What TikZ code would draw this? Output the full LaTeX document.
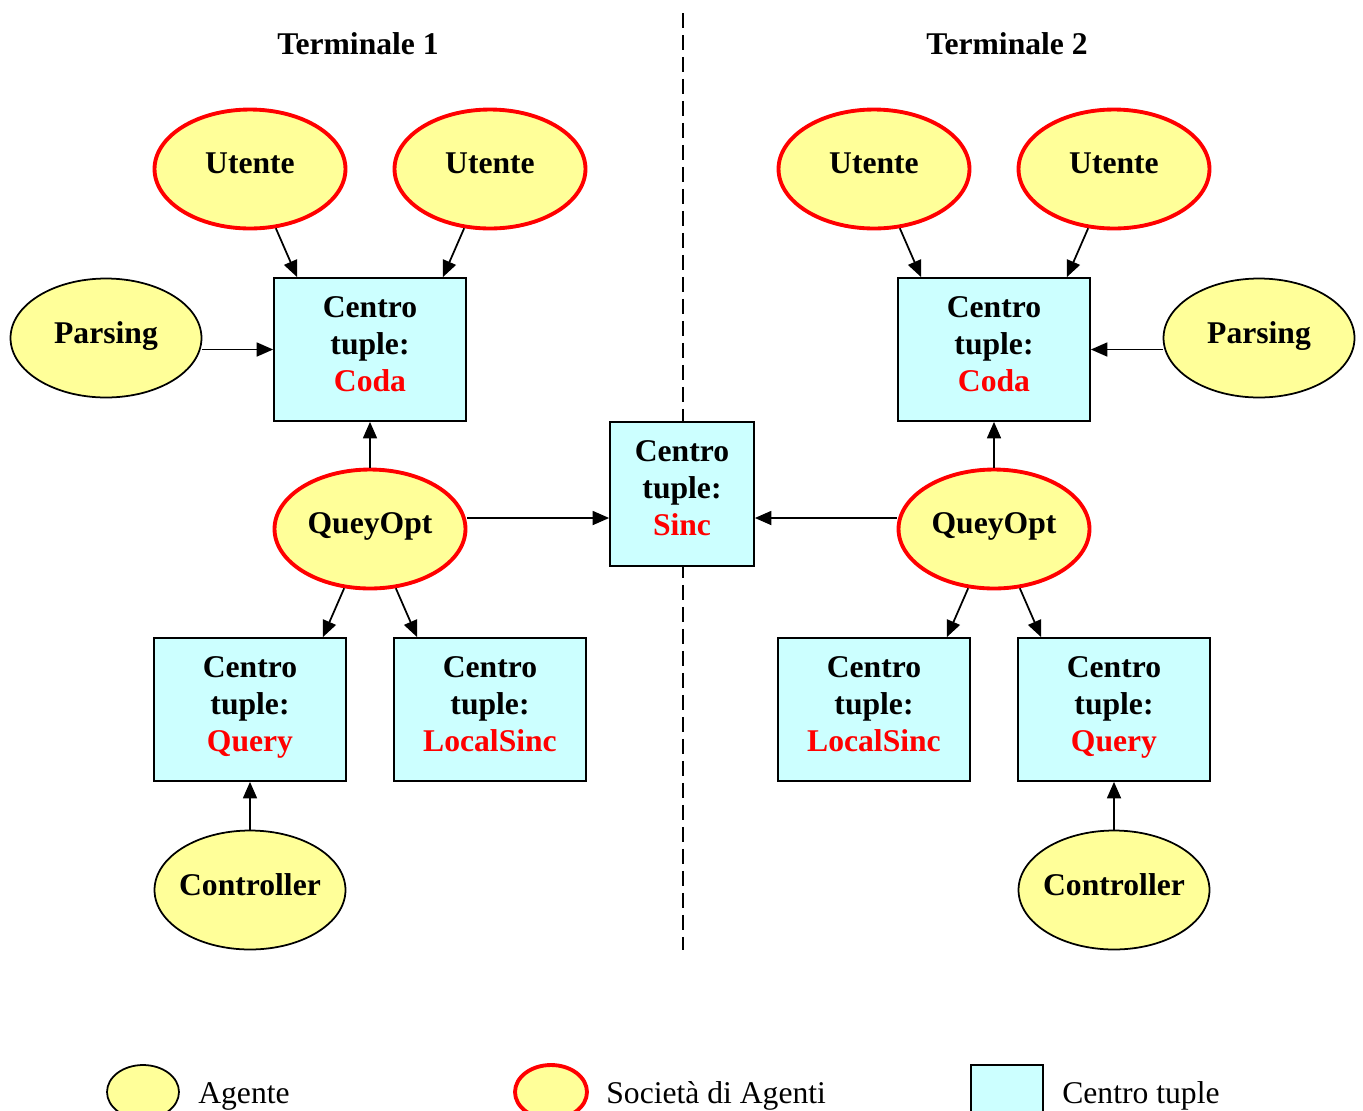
\documentclass[tikz,border=0pt]{standalone}
\usepackage{fontspec}
\setmainfont{Liberation Serif}
\definecolor{agentyellow}{RGB}{255, 255, 153}
\definecolor{tuplecyan}{RGB}{204, 255, 255}
\definecolor{socred}{RGB}{255, 0, 0}
\usetikzlibrary{shapes.geometric, arrows.meta, positioning, calc}
\newcommand{\centrotuple}[1]{Centro\\tuple:\\\textcolor{socred}{#1}\rule[-0.23cm]{0pt}{0pt}}

\begin{document}
\begin{tikzpicture}[x=0.02cm, y=-0.02cm,
  agent/.style={ellipse, draw, line width=1pt, fill=agentyellow, minimum width=3.82cm, minimum height=2.38cm, inner xsep=-0.1cm, inner ysep=0pt, text depth=0.22cm, font=\bfseries\fontsize{18}{21}\selectfont},
  society/.style={agent, draw=socred, line width=2.2pt},
  tuple/.style={rectangle, draw, line width=1pt, fill=tuplecyan, minimum width=3.84cm, minimum height=2.86cm, inner sep=0pt, align=center, font=\bfseries\fontsize{18}{21}\selectfont},
  arrow/.style={-{Triangle[length=0.33cm, width=0.28cm]}, line width=1pt},
  legtext/.style={anchor=base west, inner xsep=0pt, font=\fontsize{18}{21}\selectfont}
]
  \useasboundingbox (0,0) rectangle (1363,1110);

  % Divider and titles
  \draw[line width=1pt, dash pattern=on 0.3cm off 0.14cm] (683,13) -- (683,950);
  \node[font=\bfseries\fontsize{18}{21}\selectfont] (term1) at (358,44) {Terminale 1};
  \node[font=\bfseries\fontsize{18}{21}\selectfont] (term2) at (1007,44) {Terminale 2};

  % Terminale 1
  \node[society] (ut1a) at (250,169) {Utente};
  \node[society] (ut1b) at (490,169) {Utente};
  \node[agent] (pars1) at (106,338) {Parsing};
  \node[tuple] (coda1) at (370,349.5) {\centrotuple{Coda}};
  \node[society] (qo1) at (370,529) {QueyOpt};
  \node[tuple] (query1) at (250,709.5) {\centrotuple{Query}};
  \node[tuple] (lsinc1) at (490,709.5) {\centrotuple{LocalSinc}};
  \node[agent] (ctrl1) at (250,890) {Controller};

  % Shared tuple centre
  \node[tuple, minimum width=2.88cm, minimum height=2.88cm] (sinc) at (682,494) {\centrotuple{Sinc}};

  % Terminale 2
  \node[society] (ut2a) at (874,169) {Utente};
  \node[society] (ut2b) at (1114,169) {Utente};
  \node[agent] (pars2) at (1259,338) {Parsing};
  \node[tuple] (coda2) at (994,349.5) {\centrotuple{Coda}};
  \node[society] (qo2) at (994,529) {QueyOpt};
  \node[tuple] (lsinc2) at (874,709.5) {\centrotuple{LocalSinc}};
  \node[tuple] (query2) at (1114,709.5) {\centrotuple{Query}};
  \node[agent] (ctrl2) at (1114,890) {Controller};

  % Arrows, left
  \draw[arrow] (ut1a) -- ($(coda1.north west)+(24,0)$);
  \draw[arrow] (ut1b) -- ($(coda1.north east)+(-24,0)$);
  \draw[arrow] (pars1.east |- coda1) -- (coda1);
  \draw[arrow] (qo1) -- (coda1);
  \draw[arrow] ($(qo1.east)+(0,-11)$) -- ($(sinc.west)+(0,24)$);
  \draw[arrow] (qo1) -- ($(query1.north east)+(-24,0)$);
  \draw[arrow] (qo1) -- ($(lsinc1.north west)+(24,0)$);
  \draw[arrow] (ctrl1) -- (query1);

  % Arrows, right
  \draw[arrow] (ut2a) -- ($(coda2.north west)+(24,0)$);
  \draw[arrow] (ut2b) -- ($(coda2.north east)+(-24,0)$);
  \draw[arrow] (pars2.west |- coda2) -- (coda2);
  \draw[arrow] (qo2) -- (coda2);
  \draw[arrow] ($(qo2.west)+(0,-11)$) -- ($(sinc.east)+(0,24)$);
  \draw[arrow] (qo2) -- ($(lsinc2.north east)+(-24,0)$);
  \draw[arrow] (qo2) -- ($(query2.north west)+(24,0)$);
  \draw[arrow] (ctrl2) -- (query2);

  % Legend
  \node[agent, minimum width=1.44cm, minimum height=1.08cm] (legagent) at (143,1092) {};
  \node[legtext] (legagenttxt) at (198,1103) {Agente};
  \node[society, minimum width=1.44cm, minimum height=1.08cm] (legsoc) at (551,1092) {};
  \node[legtext] (legsoctxt) at (606,1103) {Società di Agenti};
  \node[tuple, minimum width=1.44cm, minimum height=1.44cm] (legtuple) at (1007,1101) {};
  \node[legtext] (legtupletxt) at (1062,1103) {Centro tuple};
\end{tikzpicture}
\end{document}
